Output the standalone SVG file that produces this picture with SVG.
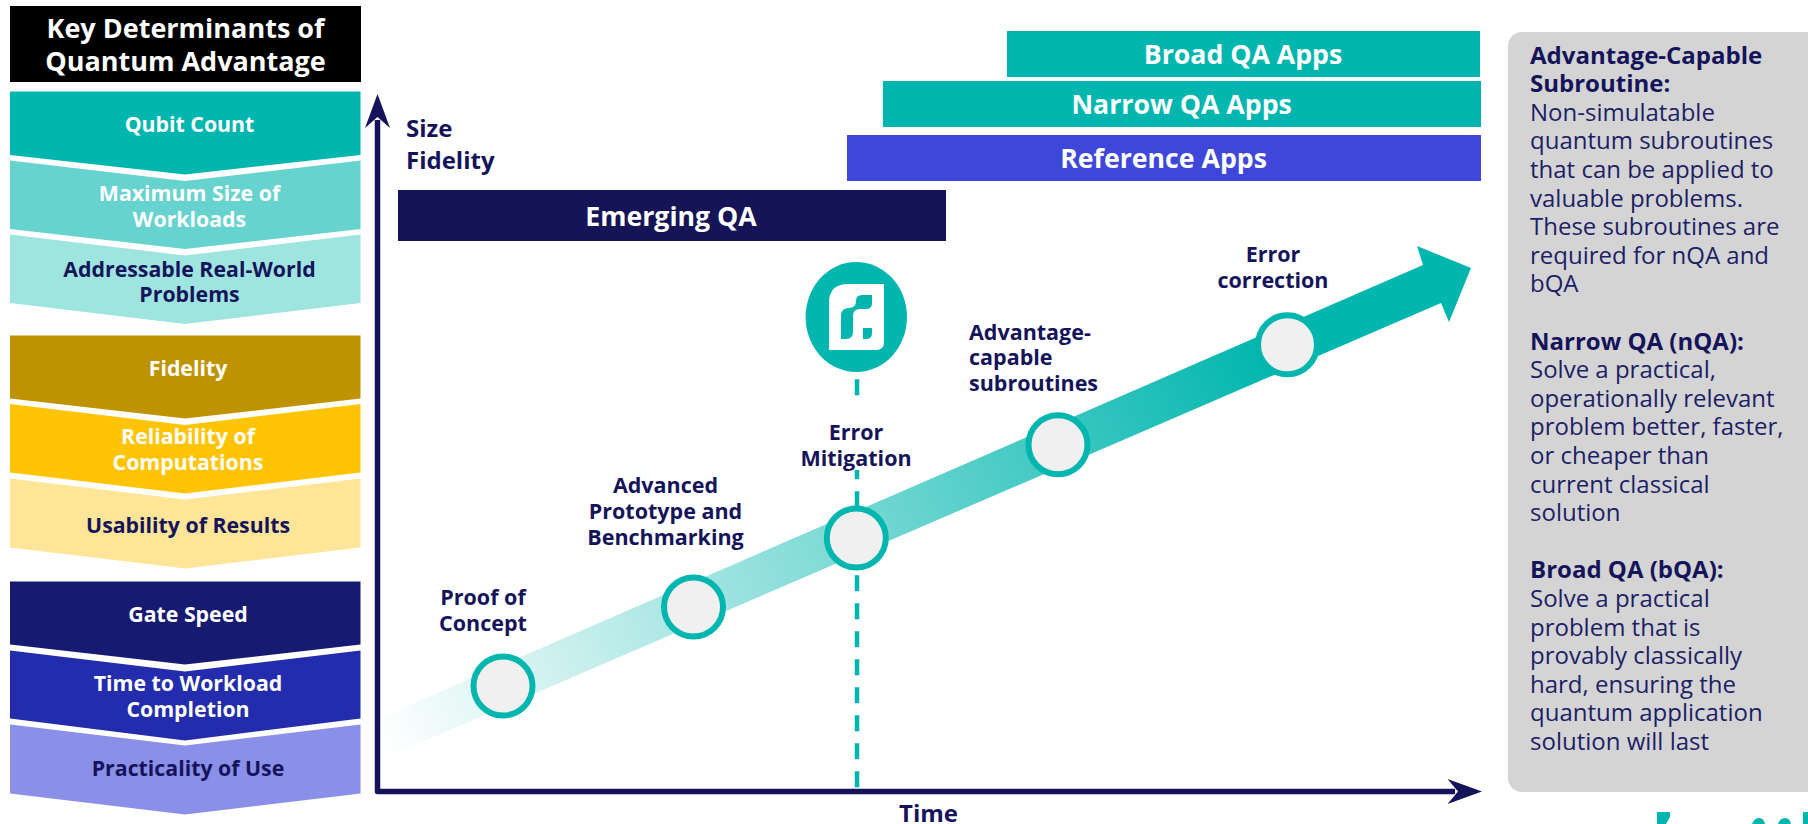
<svg xmlns="http://www.w3.org/2000/svg" width="1808" height="824" viewBox="0 0 1808 824">
<style>
text{font-family:"Open Sans","Noto Sans","Liberation Sans",sans-serif}
.c{font-size:21.3px;font-weight:700;text-anchor:middle}
.w{fill:#fff}.d{fill:#15145b}
.l{font-size:21.5px;font-weight:700;fill:#15145b;text-anchor:middle}
.b{font-size:26.7px;font-weight:700;fill:#fff;text-anchor:middle}
.a{font-size:24px;font-weight:700;fill:#15145b}
.p{font-size:24px;fill:#1c1f66}
.h{font-weight:700;fill:#15145b}
.n{fill:#f0f0f0;stroke:#00b6ae;stroke-width:6}
.ax{fill:none;stroke:#15145b;stroke-width:5.5;stroke-linejoin:round}
.t{fill:#00b6ae}
</style>
<defs>
<linearGradient id="g" gradientUnits="userSpaceOnUse" x1="380" y1="735" x2="1270" y2="350">
<stop offset="0" stop-color="#00b6ae" stop-opacity="0"/>
<stop offset="1" stop-color="#00b6ae"/>
</linearGradient>
</defs>
<g id="header"><rect x="10" y="6" width="351" height="76" fill="#000"/>
<text x="185.5" y="37.5" text-anchor="middle" font-size="27" font-weight="700" fill="#fff">Key Determinants of</text>
<text x="185.5" y="70.5" text-anchor="middle" font-size="27" font-weight="700" fill="#fff">Quantum Advantage</text></g>
<g id="qubit-count"><path d="M10 91.5H360.5V155L185 174.5L10 155Z" fill="#00b6ae"/><text class="c w" x="189.5" y="132.2">Qubit Count</text></g>
<g id="max-size"><path d="M10 160.5L185 181L360.5 160.5V229L185 249L10 229Z" fill="#66d3ce"/><text class="c w" x="189.5" y="201.2">Maximum Size of</text><text class="c w" x="189.5" y="227.2">Workloads</text></g>
<g id="addressable"><path d="M10 234.5L185 255.5L360.5 234.5V303L185 324L10 303Z" fill="#9ee4df"/><text class="c d" x="189.5" y="276.5">Addressable Real-World</text><text class="c d" x="189.5" y="302.2">Problems</text></g>
<g id="fidelity"><path d="M10 335.5H360.5V398.5L185 418.5L10 398.5Z" fill="#bf9300"/><text class="c w" x="188" y="375.5">Fidelity</text></g>
<g id="reliability"><path d="M10 404L185 425L360.5 404V472.5L185 493.5L10 472.5Z" fill="#ffc406"/><text class="c w" x="188" y="443.8">Reliability of</text><text class="c w" x="188" y="469.5">Computations</text></g>
<g id="usability"><path d="M10 478.5L185 499.5L360.5 478.5V547.5L185 568.5L10 547.5Z" fill="#fee598"/><text class="c d" x="188" y="533.2">Usability of Results</text></g>
<g id="gate-speed"><path d="M10 581.5H360.5V644.5L185 664.5L10 644.5Z" fill="#161a70"/><text class="c w" x="188" y="622.2">Gate Speed</text></g>
<g id="time-to-completion"><path d="M10 650.5L185 671.5L360.5 650.5V718.5L185 740.5L10 718.5Z" fill="#222cac"/><text class="c w" x="188" y="691.2">Time to Workload</text><text class="c w" x="188" y="717.2">Completion</text></g>
<g id="practicality"><path d="M10 724.5L185 745.5L360.5 724.5V793.5L185 814.5L10 793.5Z" fill="#8a8fe8"/><text class="c d" x="188" y="776.2">Practicality of Use</text></g>

<g id="growth-arrow"><path d="M380 718L1423 265L1417 246L1471 268L1449 322L1441 303L392 755L380 758Z" fill="url(#g)"/></g>
<g id="connectors">
<path d="M857 379.3v16M857 470v9.3M857 491.3v16M857 519.3v16M857 547.3v16M857 575.3v16M857 603.3v16M857 631.3v16M857 659.3v16M857 687.3v16M857 715.3v16M857 743.3v16M857 771.3v16" fill="none" stroke="#00b6ae" stroke-width="4.5"/>
<path d="M377.5 120V791.5H1455" class="ax"/>
<path d="M377.5 94L390 128L377.5 117L365 128Z" fill="#15145b"/>
<path d="M1482 791.5L1447.5 779L1458 791.5L1447.5 804Z" fill="#15145b"/>
</g>
<g id="axis-y-labels"><text class="a" x="406" y="137">Size</text><text class="a" x="406" y="169">Fidelity</text></g>
<g id="axis-x-label"><text class="a" x="928.5" y="822" text-anchor="middle">Time</text></g>
<g id="broad-apps"><rect x="1007" y="31" width="473" height="46" class="t"/><text class="b" x="1243" y="63.5">Broad QA Apps</text></g>
<g id="narrow-apps"><rect x="883" y="81" width="598" height="46" class="t"/><text class="b" x="1181.6" y="114">Narrow QA Apps</text></g>
<g id="reference-apps"><rect x="847" y="135" width="634" height="46" fill="#3f47db"/><text class="b" x="1163.6" y="167.5">Reference Apps</text></g>
<g id="emerging-qa"><rect x="398" y="190" width="548" height="51" fill="#141456"/><text class="b" x="671" y="226">Emerging QA</text></g>
<g id="logo"><ellipse cx="856.3" cy="317" rx="50.7" ry="55" class="t"/>
<path d="M829 350V303Q829 284 848 284H884V342Q884 350 876 350Z" fill="#fff"/>
<path d="M841 316Q841 308 849 308Q856 308 856 301Q856 295 862 295H872V303Q872 309 866 309H860Q853 309 853 316V332Q853 339 846 339H841Z M863 328H872V333Q872 339 866 339H863Z" class="t"/></g>
<g id="proof-of-concept"><circle class="n" cx="503" cy="686" r="29.5"/><text class="l" x="483" y="604.5">Proof of</text><text class="l" x="483" y="630.5">Concept</text></g>
<g id="advanced-prototype"><circle class="n" cx="693.5" cy="607" r="29.5"/><text class="l" x="665.5" y="492.5">Advanced</text><text class="l" x="665.5" y="518.5">Prototype and</text><text class="l" x="665.5" y="544.5">Benchmarking</text></g>
<g id="error-mitigation"><circle class="n" cx="856.3" cy="538" r="29.5"/><text class="l" x="856" y="439.5">Error</text><text class="l" x="856" y="465.5">Mitigation</text></g>
<g id="advantage-capable"><circle class="n" cx="1058" cy="444.8" r="29.5"/><text class="l" style="text-anchor:start" x="969" y="339.5">Advantage-</text><text class="l" style="text-anchor:start" x="969" y="365">capable</text><text class="l" style="text-anchor:start" x="969" y="390.5">subroutines</text></g>
<g id="error-correction"><circle class="n" cx="1287.5" cy="344.8" r="29.5"/><text class="l" x="1273" y="262">Error</text><text class="l" x="1273" y="287.5">correction</text></g>
<g id="definitions"><rect x="1508" y="32" width="320" height="760" rx="14" fill="#d4d4d4"/>
<text class="p">
<tspan class="h" x="1530" y="63.6">Advantage-Capable</tspan>
<tspan class="h" x="1530" y="92.2">Subroutine:</tspan>
<tspan x="1530" y="120.8">Non-simulatable</tspan>
<tspan x="1530" y="149.4">quantum subroutines</tspan>
<tspan x="1530" y="178">that can be applied to</tspan>
<tspan x="1530" y="206.6">valuable problems.</tspan>
<tspan x="1530" y="235.2">These subroutines are</tspan>
<tspan x="1530" y="263.8">required for nQA and</tspan>
<tspan x="1530" y="292.4">bQA</tspan>
<tspan class="h" x="1530" y="349.6">Narrow QA (nQA):</tspan>
<tspan x="1530" y="378.2">Solve a practical,</tspan>
<tspan x="1530" y="406.8">operationally relevant</tspan>
<tspan x="1530" y="435.4">problem better, faster,</tspan>
<tspan x="1530" y="464">or cheaper than</tspan>
<tspan x="1530" y="492.6">current classical</tspan>
<tspan x="1530" y="521.2">solution</tspan>
<tspan class="h" x="1530" y="578.4">Broad QA (bQA):</tspan>
<tspan x="1530" y="607">Solve a practical</tspan>
<tspan x="1530" y="635.6">problem that is</tspan>
<tspan x="1530" y="664.2">provably classically</tspan>
<tspan x="1530" y="692.8">hard, ensuring the</tspan>
<tspan x="1530" y="721.4">quantum application</tspan>
<tspan x="1530" y="750">solution will last</tspan>
</text></g>
<g id="corner-logo-fragment" class="t"><path d="M1657 812H1670V817L1666 824H1657Z"/><path d="M1752 824Q1754 818 1759 818Q1764 818 1765 824Z"/><path d="M1778 824Q1780 818 1785 818Q1790 818 1791 824Z"/><path d="M1803 812H1808V824H1803Z"/></g>
</svg>
